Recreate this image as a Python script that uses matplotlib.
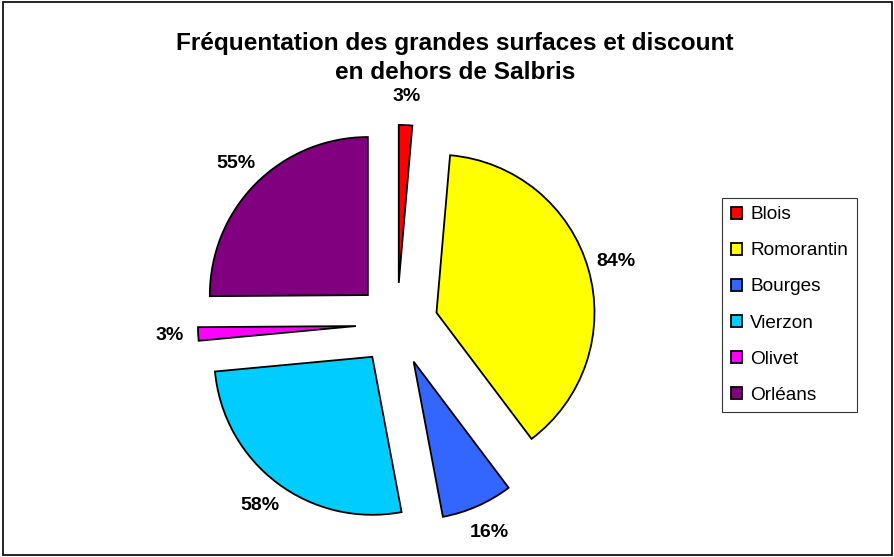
import matplotlib
matplotlib.use("Agg")
import matplotlib.pyplot as plt
from matplotlib.patches import Rectangle

categories = ["Blois", "Romorantin", "Bourges", "Vierzon", "Olivet", "Orléans"]
values = [3, 84, 16, 58, 3, 55]
colors = ["#FF0000", "#FFFF00", "#3366FF", "#00CCFF", "#FF00FF", "#800080"]
title = "Fréquentation des grandes surfaces et discount\nen dehors de Salbris"

plt.rcParams['font.family'] = ['Liberation Sans', 'DejaVu Sans']

W, H = 895, 557
fig = plt.figure(figsize=(W / 100, H / 100), dpi=100)
ax = fig.add_axes([0, 0, 1, 1])

cx, cy, R = 397, 324, 158
labels = [f"{v}%" for v in values]
wedges, texts = ax.pie(values, labels=labels, colors=colors, startangle=90,
                       counterclock=False, explode=[0.26] * len(values),
                       labeldistance=1.18,
                       wedgeprops=dict(edgecolor="black", linewidth=1.3),
                       textprops=dict(fontsize=14, fontweight="bold"))
for t in texts:
    t.set_horizontalalignment("center")
    t.set_verticalalignment("center")

ax.set_xlim(-cx / R, (W - cx) / R)
ax.set_ylim(-(H - cy) / R, cy / R)
ax.set_aspect("auto")
ax.axis("off")

fig.text(455 / W, 1 - 58 / H, title, ha="center", va="center",
         fontsize=17.6, fontweight="bold", linespacing=1.32)

leg = fig.legend(wedges, categories, loc="center",
                 bbox_to_anchor=(789.5 / W, 1 - 305 / H),
                 fontsize=13.7, frameon=True, fancybox=False,
                 edgecolor="black", handlelength=0.6, handleheight=0.6,
                 handletextpad=0.4, labelspacing=1.0, borderpad=0.45,
                 borderaxespad=0)
leg.get_frame().set_linewidth(0.8)

fig.patches.append(Rectangle((0.003, 0.004), 0.994, 0.992, transform=fig.transFigure,
                             fill=False, edgecolor="black", linewidth=1.2))

fig.savefig("out.png", dpi=100)
